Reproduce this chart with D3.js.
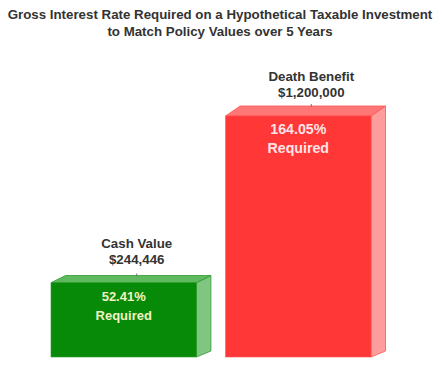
<!DOCTYPE html>
<html>
<head>
<meta charset="utf-8">
<script src="https://cdn.jsdelivr.net/npm/d3@7"></script>
<style>
  body { margin: 0; background: #fff; }
  text { font-family: "Liberation Sans", Arial, sans-serif; font-weight: bold; }
</style>
</head>
<body>
<svg id="chart" width="442" height="372"></svg>
<script>
// chart data
var categories = ["Cash Value", "Death Benefit"];
var amounts = ["$244,446", "$1,200,000"];
var rates = [52.41, 164.05];
var titleLines = ["Gross Interest Rate Required on a Hypothetical Taxable Investment",
                  "to Match Policy Values over 5 Years"];

var colors = [
  {front: "#078a07", top: "#5fba5f", side: "#80c680", edge: "#2d9b2d", text: "#f2f3c4", size: 13},
  {front: "#ff3737", top: "#ff7676", side: "#ff9c9c", edge: "#ff5555", text: "#ffe6e6", size: 14.2}
];

var svg = d3.select("#chart");
var floorY = 357;

var x = d3.scaleBand()
    .domain(categories)
    .range([51, 371])
    .paddingInner(0.167)
    .paddingOuter(0);

var y = d3.scaleLinear()
    .domain([0, 164.05])
    .range([361, 116]);

// oblique depth, a bit deeper towards the top
var depthX = 14.5;
function depthY(py) { return -6 - (floorY - py) * 0.0166; }

var data = categories.map(function(c, i) {
  return {cat: c, amount: amounts[i], rate: rates[i], col: colors[i]};
});

var bars = svg.selectAll("g.bar")
    .data(data)
    .enter().append("g")
    .attr("class", "bar");

// right side face
bars.append("polygon")
    .attr("points", function(d) {
      var x1 = x(d.cat) + x.bandwidth(), t = y(d.rate);
      return [[x1, t], [x1 + depthX, t + depthY(t)],
              [x1 + depthX, floorY + depthY(floorY)], [x1, floorY]].join(" ");
    })
    .style("fill", function(d) { return d.col.side; })
    .style("stroke", function(d) { return d.col.edge; })
    .style("stroke-width", 0.8);

// top face
bars.append("polygon")
    .attr("points", function(d) {
      var x0 = x(d.cat), x1 = x0 + x.bandwidth(), t = y(d.rate), dy = depthY(t);
      return [[x0, t], [x0 + depthX, t + dy], [x1 + depthX, t + dy], [x1, t]].join(" ");
    })
    .style("fill", function(d) { return d.col.top; })
    .style("stroke", function(d) { return d.col.edge; })
    .style("stroke-width", 0.8);

// front face
bars.append("rect")
    .attr("x", function(d) { return x(d.cat); })
    .attr("y", function(d) { return y(d.rate); })
    .attr("width", x.bandwidth())
    .attr("height", function(d) { return floorY - y(d.rate); })
    .style("fill", function(d) { return d.col.front; })
    .style("stroke", function(d) { return d.col.edge; })
    .style("stroke-width", 0.6);

// small leader ticks
bars.append("line")
    .attr("x1", function(d) { return x(d.cat) + x.bandwidth() / 2 + 13; })
    .attr("x2", function(d) { return x(d.cat) + x.bandwidth() / 2 + 13; })
    .attr("y1", function(d) { return y(d.rate) + depthY(y(d.rate)) - 2; })
    .attr("y2", function(d) { return y(d.rate) + depthY(y(d.rate)) + 1; })
    .style("stroke", "#777")
    .style("stroke-width", 1);

// labels above
bars.append("text")
    .attr("x", function(d) { return x(d.cat) + x.bandwidth() / 2 + 13; })
    .attr("y", function(d) { return y(d.rate) - 35; })
    .attr("text-anchor", "middle")
    .style("font-size", "13.3px")
    .style("fill", "#333")
    .text(function(d) { return d.cat; });

bars.append("text")
    .attr("x", function(d) { return x(d.cat) + x.bandwidth() / 2 + 13; })
    .attr("y", function(d) { return y(d.rate) - 19; })
    .attr("text-anchor", "middle")
    .style("font-size", "13.3px")
    .style("fill", "#333")
    .text(function(d) { return d.amount; });

// labels inside
bars.append("text")
    .attr("x", function(d) { return x(d.cat) + x.bandwidth() / 2; })
    .attr("y", function(d) { return y(d.rate) + 18; })
    .attr("text-anchor", "middle")
    .style("font-size", function(d) { return d.col.size + "px"; })
    .style("fill", function(d) { return d.col.text; })
    .text(function(d) { return d.rate.toFixed(2) + "%"; });

bars.append("text")
    .attr("x", function(d) { return x(d.cat) + x.bandwidth() / 2; })
    .attr("y", function(d) { return y(d.rate) + 37; })
    .attr("text-anchor", "middle")
    .style("font-size", function(d) { return d.col.size + "px"; })
    .style("fill", function(d) { return d.col.text; })
    .text("Required");

// title
svg.selectAll("text.title")
    .data(titleLines)
    .enter().append("text")
    .attr("class", "title")
    .attr("x", 220)
    .attr("y", function(d, i) { return 19 + i * 17; })
    .attr("text-anchor", "middle")
    .style("font-size", "13.3px")
    .style("fill", "#333")
    .text(function(d) { return d; });
</script>
</body>
</html>
